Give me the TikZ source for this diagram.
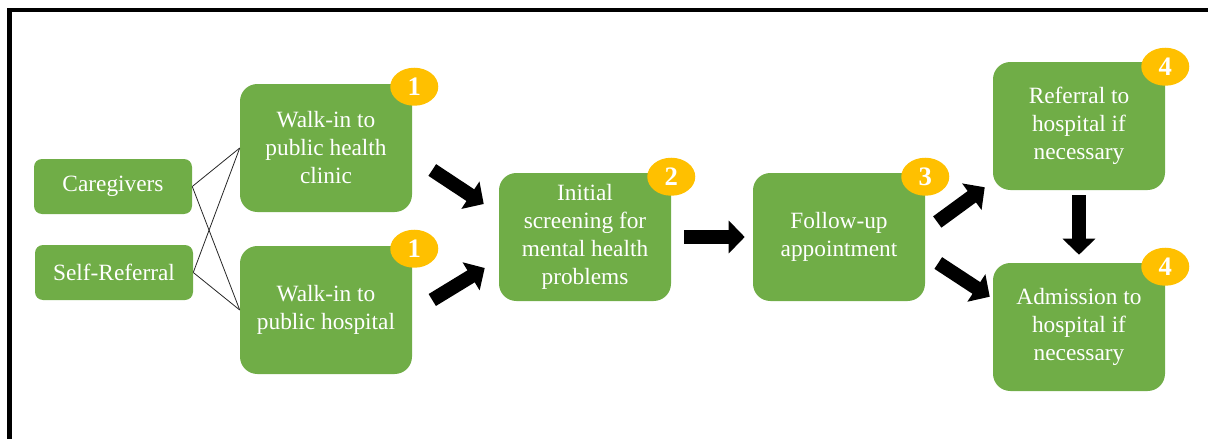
\documentclass[tikz,border=0pt]{standalone}
\usepackage{fontspec}
\setmainfont{Liberation Serif}
\usetikzlibrary{arrows.meta,calc,shapes.geometric}
\definecolor{ppgreen}{HTML}{70AD47}
\definecolor{ppgold}{HTML}{FFC000}
\tikzset{
  % rutor
  fb/.style={rectangle,rounded corners=13pt,fill=ppgreen,text=white,
             minimum width=129pt,minimum height=96pt,inner sep=0pt,align=center,
             font=\fontsize{17.5}{21}\selectfont},
  sb/.style={fb,rounded corners=6pt,minimum width=118.5pt,minimum height=41.25pt},
  nb/.style={ellipse,fill=ppgold,text=white,minimum width=36pt,minimum height=28.5pt,
             inner sep=0pt,font=\fontsize{20}{24}\selectfont\bfseries},
  % pilar
  ln/.style={draw=black!85,line width=0.6pt},
  ba/.style={draw=black,line width=10.5pt,-{Triangle[length=12pt,width=24pt]}},
  frame/.style={draw=black,line width=3.6pt},
}
\begin{document}
\begin{tikzpicture}[x=0.75pt,y=-0.75pt]
  \useasboundingbox (0,0) rectangle (1208,439);
  \draw[frame] (9.5,439) -- (9.5,10) -- (1208,10);
  \node[sb] (care) at (113,186.5) {Caregivers};
  \node[sb] (self) at (114,272.5) {Self-Referral};
  \node[fb] (clinic) at (326,148) {Walk-in to\\public health\\clinic};
  \node[fb] (hosp) at (326,310) {Walk-in to\\public hospital};
  \node[fb] (screen) at (585,237) {Initial\\screening for\\mental health\\problems};
  \node[fb] (follow) at (839,237) {Follow-up\\appointment};
  \node[fb] (refer) at (1079,126) {Referral to\\hospital if\\necessary};
  \node[fb] (admit) at (1079,327) {Admission to\\hospital if\\necessary};
  \node[nb] (n1a) at ($(clinic.north east)+(2,3)$) {1};
  \node[nb] (n1b) at ($(hosp.north east)+(2,3)$) {1};
  \node[nb] (n2) at ($(screen.north east)+(0,4)$) {2};
  \node[nb] (n3) at ($(follow.north east)+(0,4)$) {3};
  \node[nb] (n4a) at ($(refer.north east)+(0,5)$) {4};
  \node[nb] (n4b) at ($(admit.north east)+(0,4)$) {4};
  \draw[ln] (care.east) -- (clinic.west);
  \draw[ln] (care.east) -- (hosp.west);
  \draw[ln] (self.east) -- (clinic.west);
  \draw[ln] (self.east) -- (hosp.west);
  \draw[ba] ($(clinic.east)+(20,22)$) -- ($(screen.west)+(-15,-33)$);
  \draw[ba] ($(hosp.east)+(20,-10)$) -- ($(screen.west)+(-14,31)$);
  \draw[ba] ($(screen.east)+(13,0)$) -- ($(follow.west)+(-8,0)$);
  \draw[ba] ($(follow.east)+(12,-15)$) -- ($(refer.south west)+(-8,-3)$);
  \draw[ba] ($(follow.east)+(13,26)$) -- ($(admit.north west)+(-3,34)$);
  \draw[ba] ($(refer.south)+(0,5)$) -- ($(admit.north)+(0,-8)$);
\end{tikzpicture}
\end{document}
